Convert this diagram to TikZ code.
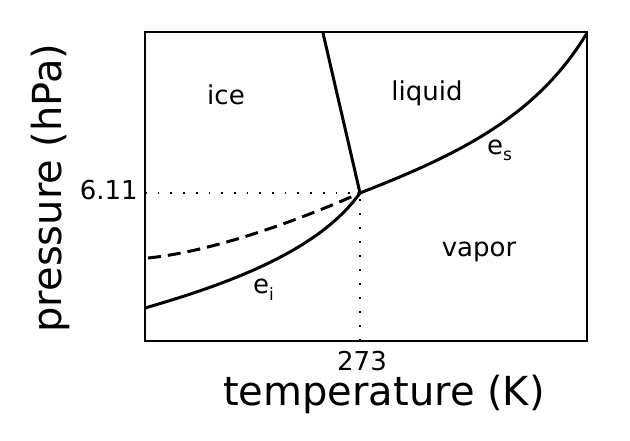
\documentclass[tikz,border=0pt]{standalone}
\usepackage{fontspec}
\setmainfont{DejaVu Sans}
\begin{document}
\begin{tikzpicture}[x=1pt,y=-1pt,
  curve/.style={line width=3pt},
  dashcurve/.style={line width=3pt, dash pattern=on 13pt off 7pt},
  frame/.style={line width=2pt},
  guide/.style={line width=1.7pt, dash pattern=on 1.7pt off 11pt},
  guidev/.style={line width=1.7pt, dash pattern=on 1.7pt off 12.3pt},
  lbl/.style={font=\fontsize{26}{30}\selectfont, anchor=base, inner sep=0pt},
  axislbl/.style={font=\fontsize{40}{48}\selectfont, anchor=base, inner sep=0pt}]
\useasboundingbox (0,0) rectangle (630,441);
% key points
\coordinate (T) at (360,193);
\coordinate (M) at (323,33);
\coordinate (TL) at (145,32);
\coordinate (BR) at (587,341);
\coordinate (Yax) at (145,193);
\coordinate (Xax) at (360,341);
\coordinate (ES) at (587,33);
\coordinate (EI) at (145,308);
\coordinate (DS) at (148,258);
% guides
\draw[guide] (Yax) -- (T);
\draw[guidev] (Xax) -- (T);
% curves
\draw[curve] (M) -- (T);
\draw[curve] (T) .. controls (460,154) and (537,116) .. (ES);
\draw[curve] (EI) .. controls (235,282) and (320,249) .. (T);
\draw[dashcurve] (DS) .. controls (218,251) and (310,215.5) .. (T);
% frame
\draw[frame] (TL) rectangle (BR);
% labels
\node[lbl] (ice) at (226,105) {ice};
\node[lbl] (liquid) at (427,101) {liquid};
\node[lbl] (vapor) at (479,257) {vapor};
\node[lbl, anchor=base west] (es) at (487,155) {e\raisebox{-6pt}{\fontsize{17}{17}\selectfont s}};
\node[lbl, anchor=base west] (ei) at (253,294) {e\raisebox{-6pt}{\fontsize{17}{17}\selectfont i}};
\node[lbl, anchor=base east] (p611) at (138,200) {6.11};
\node[lbl] (t273) at (362,370) {273};
\node[axislbl] (xlab) at (384,405) {temperature (K)};
\node[axislbl, rotate=90] (ylab) at (61,188) {pressure (hPa)};
\end{tikzpicture}
\end{document}
